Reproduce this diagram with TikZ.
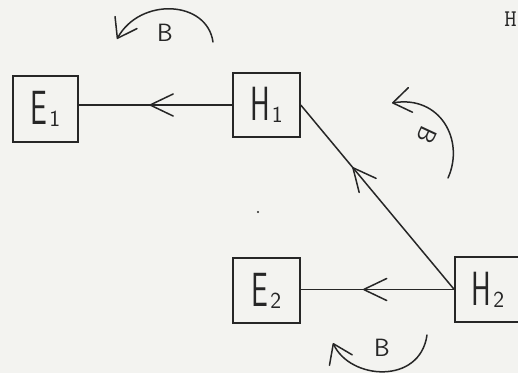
\documentclass[tikz,border=0pt]{standalone}
\usepackage{fontspec}
\usepackage{graphicx}
\usetikzlibrary{arrows.meta,decorations.markings}
\definecolor{paper}{RGB}{243,243,240}
\definecolor{ink}{RGB}{38,38,38}
\newcommand{\boxlbl}[2]{\scalebox{0.62}[1]{\fontsize{48}{48}\selectfont #1}\kern2pt\raisebox{-2pt}{\fontsize{23}{23}\selectfont #2}}
\begin{document}
\begin{tikzpicture}[x=1pt,y=-1pt,
  inkline/.style={draw=ink,line width=1.5pt},
  blockbox/.style={inkline, rectangle, inner sep=0pt, minimum width=66pt, minimum height=65pt, font=\sffamily, text=ink},
  chevron at/.style={postaction={decorate},decoration={markings,mark=at position #1 with {\draw[inkline,line cap=round,line join=round] (-23pt,11pt) -- (0pt,0pt) -- (-23pt,-11pt);}}},
  turn/.style={inkline, line cap=round, -{Straight Barb[length=18pt,width=25pt,round]}},
  turnlbl/.style={font=\sffamily\fontsize{25}{25}\selectfont, text=ink, inner sep=0pt}
]
\useasboundingbox (0,0) rectangle (518,373);
\clip (0,0) rectangle (518,373);
\fill[paper] (0,0) rectangle (518,373);

% boxes
\node[blockbox, minimum width=65pt, minimum height=66pt] (E1) at (45.5,109) {\boxlbl{E}{1}};
\node[blockbox, minimum width=67pt, minimum height=64pt] (H1) at (266.5,105) {\boxlbl{H}{1}};
\node[blockbox, minimum width=67pt, minimum height=65pt] (E2) at (266.5,290.5) {\boxlbl{E}{2}};
\node[blockbox, minimum width=72pt, minimum height=65pt] (H2) at (491,289.5) {\hspace*{-6pt}\boxlbl{H}{2}};

% connectors
\draw[inkline, chevron at=0.535] (H1.west) -- (E1.east |- H1.west);
\draw[inkline, chevron at=0.66] (H2.west) -- (H1.east);
\draw[inkline, chevron at=0.59] (H2.west) -- (E2.east |- H2.west);

% rotation arrows
\coordinate (t1s) at (213,42);
\coordinate (t1e) at (117,39);
\draw[turn] (t1s) .. controls (207,0) and (140,-3) .. (t1e);
\node[turnlbl] (B1) at (165,33) {B};

\coordinate (t2s) at (448,178);
\coordinate (t2e) at (392,103);
\draw[turn] (t2s) .. controls (465,140) and (440,95) .. (t2e);
\node[turnlbl, rotate=-115] (B2) at (427,135) {B};

\coordinate (t3s) at (427,335);
\coordinate (t3e) at (333,343);
\draw[turn] (t3s) .. controls (420,385) and (350,380) .. (t3e);
\node[turnlbl] (B3) at (382,348) {B};

% stray marks
\fill[ink] (258,212) circle (1.2pt);
\node[anchor=east, font=\ttfamily\fontsize{24}{24}\selectfont, text=ink, inner sep=0pt] (hdr) at (517,19) {H};
\end{tikzpicture}
\end{document}
